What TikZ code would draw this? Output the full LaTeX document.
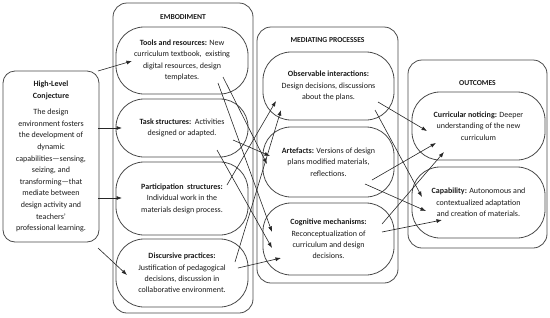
\documentclass[tikz,border=0pt]{standalone}
\usepackage{fontspec}
\setmainfont{Carlito}
\usetikzlibrary{arrows.meta}
\definecolor{linec}{HTML}{4A4A4A}
\definecolor{txtc}{HTML}{1A1A1A}
\begin{document}
\begin{tikzpicture}[x=1pt,y=-1pt,
  frame/.style={draw=linec, line width=0.8pt, rounded corners=14pt, inner sep=0pt},
  item/.style={draw=linec, line width=0.8pt, rounded corners=28pt, align=center,
    text=txtc, font=\fontsize{8}{11.4}\selectfont, inner sep=0pt, minimum width=132pt},
  ttl/.style={text=txtc, font=\fontsize{7.6}{9}\selectfont\bfseries, inner sep=0pt},
  arr/.style={draw=black!85, line width=0.6pt, -{Latex[length=5.5pt,width=4pt]}}
]
\useasboundingbox (0,0) rectangle (550,317);

% high-level conjecture
\node[draw=linec, line width=0.8pt, rounded corners=12pt, align=center, text=txtc,
  font=\fontsize{8}{11.6}\selectfont, minimum width=96pt, minimum height=171pt, inner sep=0pt]
  (conj) at (51,156.5) {\textbf{High-Level}\\\textbf{Conjecture}\\[5pt]The design\\environment fosters\\the development of\\dynamic\\capabilities—sensing,\\seizing, and\\transforming—that\\mediate between\\design activity and\\teachers’\\professional learning.};

% frames
\node[frame, minimum width=140pt, minimum height=310pt] (emb) at (183,158) {};
\node[frame, minimum width=141pt, minimum height=256pt] (med) at (327.5,155) {};
\node[frame, minimum width=139pt, minimum height=188pt] (out) at (477.5,154) {};

\node[ttl] (embt) at (183,17) {EMBODIMENT};
\node[ttl] (medt) at (327.5,40) {MEDIATING PROCESSES};
\node[ttl] (outt) at (477.5,83) {OUTCOMES};

% embodiment items
\node[item, minimum height=67pt] (tools) at (182,60.5) {\textbf{Tools and resources:} New\\curriculum textbook,\ \ existing\\digital resources, design\\templates.};
\node[item, minimum height=58pt] (task) at (182,128) {\textbf{Task structures:}\ \ Activities\\designed or adapted.};
\node[item, minimum height=73pt] (part) at (182,198.5) {\textbf{Participation\ \ structures:}\\Individual work in the\\materials design process.};
\node[item, minimum height=68pt] (disc) at (182,273) {\textbf{Discursive practices:}\\Justification of pedagogical\\decisions, discussion in\\collaborative environment.};

% mediating items
\node[item, minimum width=131pt, minimum height=68pt] (obs) at (328.5,86) {\textbf{Observable interactions:}\\Design decisions, discussions\\about the plans.};
\node[item, minimum width=131pt, minimum height=70pt] (art) at (328.5,162) {\textbf{Artefacts:} Versions of design\\plans modified materials,\\reflections.};
\node[item, minimum width=131pt, minimum height=72pt] (cog) at (328.5,239) {\textbf{Cognitive mechanisms:}\\Reconceptualization of\\curriculum and design\\decisions.};

% outcome items
\node[item, minimum width=133pt, minimum height=68pt] (cur) at (478.5,126) {\textbf{Curricular noticing:} Deeper\\understanding of the new\\curriculum};
\node[item, minimum width=133pt, minimum height=71pt] (cap) at (478.5,202.5) {\textbf{Capability:} Autonomous and\\contextualized adaptation\\and creation of materials.};

% arrow end points
\coordinate (c1) at ([shift={(47,-85.5)}]conj.center);
\coordinate (c2) at ([shift={(47,-28.5)}]conj.center);
\coordinate (c3) at ([shift={(47,41.5)}]conj.center);
\coordinate (c4) at ([shift={(47,91.5)}]conj.center);
\coordinate (tools-in) at ([shift={(-50,0.5)}]tools.center);
\coordinate (task-in) at ([shift={(-60,0)}]task.center);
\coordinate (part-in) at ([shift={(-60,-0.5)}]part.center);
\coordinate (disc-in) at ([shift={(-55,2)}]disc.center);

\coordinate (t1) at ([shift={(41,16.5)}]tools.center);
\coordinate (t2) at ([shift={(36,22.5)}]tools.center);
\coordinate (k1) at ([shift={(51,12)}]task.center);
\coordinate (k2) at ([shift={(35,22)}]task.center);
\coordinate (p1) at ([shift={(45,-13.5)}]part.center);
\coordinate (d1) at ([shift={(53,-11)}]disc.center);
\coordinate (d2) at ([shift={(56,-5)}]disc.center);

\coordinate (o-in1) at ([shift={(-52.5,15)}]obs.center);
\coordinate (o-in2) at ([shift={(-47.5,24)}]obs.center);
\coordinate (a-in1) at ([shift={(-58.5,-6)}]art.center);
\coordinate (a-in2) at ([shift={(-61.5,2)}]art.center);
\coordinate (g-in1) at ([shift={(-56.5,-7)}]cog.center);
\coordinate (g-in2) at ([shift={(-56.5,9)}]cog.center);
\coordinate (g-in3) at ([shift={(-47.5,19)}]cog.center);

\coordinate (o1) at ([shift={(49.5,16)}]obs.center);
\coordinate (o2) at ([shift={(46.5,24)}]obs.center);
\coordinate (a1) at ([shift={(43.5,18)}]art.center);
\coordinate (a2) at ([shift={(36.5,22)}]art.center);
\coordinate (g1) at ([shift={(53.5,-15)}]cog.center);
\coordinate (g2) at ([shift={(53.5,-7)}]cog.center);

\coordinate (cur-in1) at ([shift={(-51.5,5)}]cur.center);
\coordinate (cur-in2) at ([shift={(-42.5,17)}]cur.center);
\coordinate (cur-in3) at ([shift={(-34.5,26)}]cur.center);
\coordinate (cap-in1) at ([shift={(-56.5,-5.5)}]cap.center);
\coordinate (cap-in2) at ([shift={(-52.5,8.5)}]cap.center);
\coordinate (cap-in3) at ([shift={(-36.5,17.5)}]cap.center);

% arrows conjecture -> embodiment
\draw[arr] (c1) -- (tools-in);
\draw[arr] (c2) -- (task-in);
\draw[arr] (c3) -- (part-in);
\draw[arr] (c4) -- (disc-in);

% embodiment -> mediating
\draw[arr] (t1) -- (a-in2);
\draw[arr] (t2) -- (g-in1);
\draw[arr] (k1) -- (a-in1);
\draw[arr] (k2) -- (g-in2);
\draw[arr] (p1) -- (o-in1);
\draw[arr] (d1) -- (o-in2);
\draw[arr] (d2) -- (g-in3);

% mediating -> outcomes
\draw[arr] (o1) -- (cur-in1);
\draw[arr] (o2) -- (cap-in1);
\draw[arr] (a1) -- (cur-in2);
\draw[arr] (a2) -- (cap-in2);
\draw[arr] (g1) -- (cur-in3);
\draw[arr] (g2) -- (cap-in3);
\end{tikzpicture}
\end{document}
